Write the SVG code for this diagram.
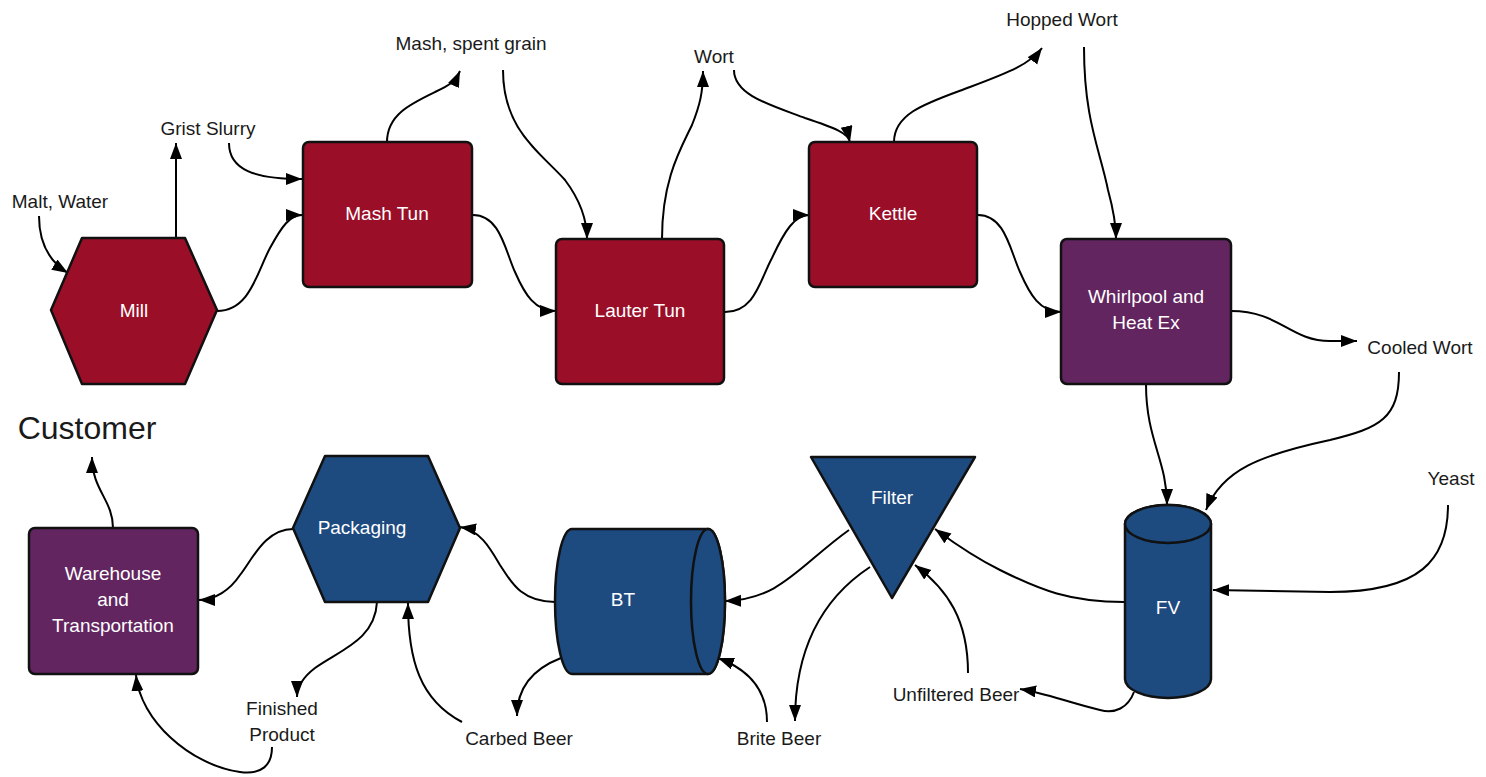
<svg xmlns="http://www.w3.org/2000/svg" width="1486" height="777" viewBox="0 0 1486 777">
<style>
.red{fill:#9a0e28;stroke:#111;stroke-width:2.5;stroke-linejoin:round}
.pur{fill:#622560;stroke:#111;stroke-width:2.5;stroke-linejoin:round}
.blu{fill:#1d4a7f;stroke:#111;stroke-width:2.5;stroke-linejoin:round}
.nt{font-family:"Liberation Sans",Arial,sans-serif;font-size:19px;fill:#fff;text-anchor:middle;dominant-baseline:central}
.lb{font-family:"Liberation Sans",Arial,sans-serif;font-size:19px;fill:#1a1a1a;text-anchor:middle;dominant-baseline:central}
.cx path{fill:none;stroke:#000;stroke-width:2;marker-end:url(#ah)}
</style>
<defs>
<marker id="ah" markerUnits="userSpaceOnUse" markerWidth="18" markerHeight="14" refX="16" refY="6" orient="auto">
<path d="M0,0 L16,6 L0,12 z" fill="#000"/>
</marker>
</defs>
<rect width="1486" height="777" fill="#fff"/>

<g id="connectors" class="cx">
<path d="M39,216 C39,245 50,262 68,273"/>
<path d="M176,238 L176,143"/>
<path d="M229,143 C229,170 255,179 302,179"/>
<path d="M217,311 C250,311 257,272 270,248 C282,226 290,215 302,215"/>
<path d="M387,142 C387,115 410,104 435,92 C450,85 455,82 460,71"/>
<path d="M503,70 C503,130 540,152 565,180 C580,200 587,220 587,239"/>
<path d="M473,215 C500,215 505,250 515,272 C525,295 535,311 556,311"/>
<path d="M662,239 C662,180 680,150 692,125 C700,105 703,92 703,71"/>
<path d="M734,70 C734,95 770,105 805,118 C835,128 848,133 850,142"/>
<path d="M725,312 C755,312 760,280 772,258 C785,230 795,215 809,215"/>
<path d="M894,142 C894,112 930,102 970,87 C1010,72 1030,64 1042,48"/>
<path d="M1084,47 C1084,120 1100,150 1108,190 C1114,212 1116,225 1116,239"/>
<path d="M978,215 C1005,215 1010,250 1020,272 C1030,295 1040,312 1061,312"/>
<path d="M1231,311 C1280,311 1290,341 1330,341 L1357,341"/>
<path d="M1146,384 C1146,440 1167,460 1167,505"/>
<path d="M1399,372 C1399,418 1380,428 1330,440 C1260,455 1222,470 1206,510"/>
<path d="M1448,505 C1448,560 1420,592 1330,592 L1213,590"/>
<path d="M1124,602 C1070,602 1040,590 1000,570 C970,555 950,540 935,529"/>
<path d="M968,673 C968,620 948,590 915,565"/>
<path d="M1134,692 C1128,708 1115,714 1100,710 C1070,703 1045,693 1020,689"/>
<path d="M849,530 C800,565 780,600 725,601"/>
<path d="M870,567 C820,600 795,650 795,721"/>
<path d="M767,722 C767,690 750,670 718,658"/>
<path d="M555,602 C520,602 510,580 500,565 C490,548 480,530 460,527"/>
<path d="M561,658 C530,670 517,690 517,716"/>
<path d="M462,722 C420,700 408,660 408,603"/>
<path d="M293,529 C265,529 252,560 240,575 C230,590 215,600 199,600"/>
<path d="M377,602 C375,640 340,650 315,668 C302,678 297,688 297,697"/>
<path d="M272,747 C272,765 262,775 240,772 C190,765 140,720 136,675"/>
<path d="M113,528 C113,500 92,490 92,457"/>
</g>

<g id="mill"><polygon class="red" points="51,310 82,238 185,238 217,310 185,384 82,384"/><text class="nt" x="134" y="310">Mill</text></g>
<g id="mash-tun"><rect class="red" x="303" y="142" width="169" height="145" rx="6"/><text class="nt" x="387" y="213">Mash Tun</text></g>
<g id="lauter-tun"><rect class="red" x="556" y="239" width="168" height="145" rx="6"/><text class="nt" x="640" y="310">Lauter Tun</text></g>
<g id="kettle"><rect class="red" x="809" y="142" width="168" height="145" rx="6"/><text class="nt" x="893" y="213">Kettle</text></g>
<g id="whirlpool"><rect class="pur" x="1061" y="239" width="170" height="145" rx="6"/><text class="nt" x="1146" y="296">Whirlpool and</text><text class="nt" x="1146" y="322">Heat Ex</text></g>
<g id="fv"><path class="blu" d="M1125,524 L1125,679 A43,19 0 0 0 1211,679 L1211,524 A43,19 0 0 0 1125,524 Z"/><ellipse class="blu" cx="1168" cy="524" rx="43" ry="19"/><text class="nt" x="1168" y="607">FV</text></g>
<g id="filter"><polygon class="blu" points="811,457 975,457 892,598"/><text class="nt" x="892" y="497">Filter</text></g>
<g id="bt"><path class="blu" d="M572,529 L708,529 A17,72.5 0 0 1 708,674 L572,674 A17,72.5 0 0 1 572,529 Z"/><ellipse class="blu" cx="708" cy="601.5" rx="17" ry="72.5"/><text class="nt" x="623" y="599">BT</text></g>
<g id="packaging"><polygon class="blu" points="293,528 325,456 428,456 460,528 428,602 325,602"/><text class="nt" x="362" y="527">Packaging</text></g>
<g id="warehouse"><rect class="pur" x="29" y="528" width="169" height="146" rx="6"/><text class="nt" x="113" y="573">Warehouse</text><text class="nt" x="113" y="599">and</text><text class="nt" x="113" y="625">Transportation</text></g>

<g id="labels">
<text class="lb" x="60" y="201">Malt, Water</text>
<text class="lb" x="208" y="128">Grist Slurry</text>
<text class="lb" x="471" y="43">Mash, spent grain</text>
<text class="lb" x="714" y="56">Wort</text>
<text class="lb" x="1062" y="19">Hopped Wort</text>
<text class="lb" x="1420" y="347">Cooled Wort</text>
<text class="lb" x="1451" y="478">Yeast</text>
<text class="lb" x="956" y="694">Unfiltered Beer</text>
<text class="lb" x="779" y="738">Brite Beer</text>
<text class="lb" x="519" y="738">Carbed Beer</text>
<text class="lb" x="282" y="708">Finished</text>
<text class="lb" x="282" y="734">Product</text>
<text class="lb" x="87" y="428" style="font-size:32px">Customer</text>
</g>
</svg>
